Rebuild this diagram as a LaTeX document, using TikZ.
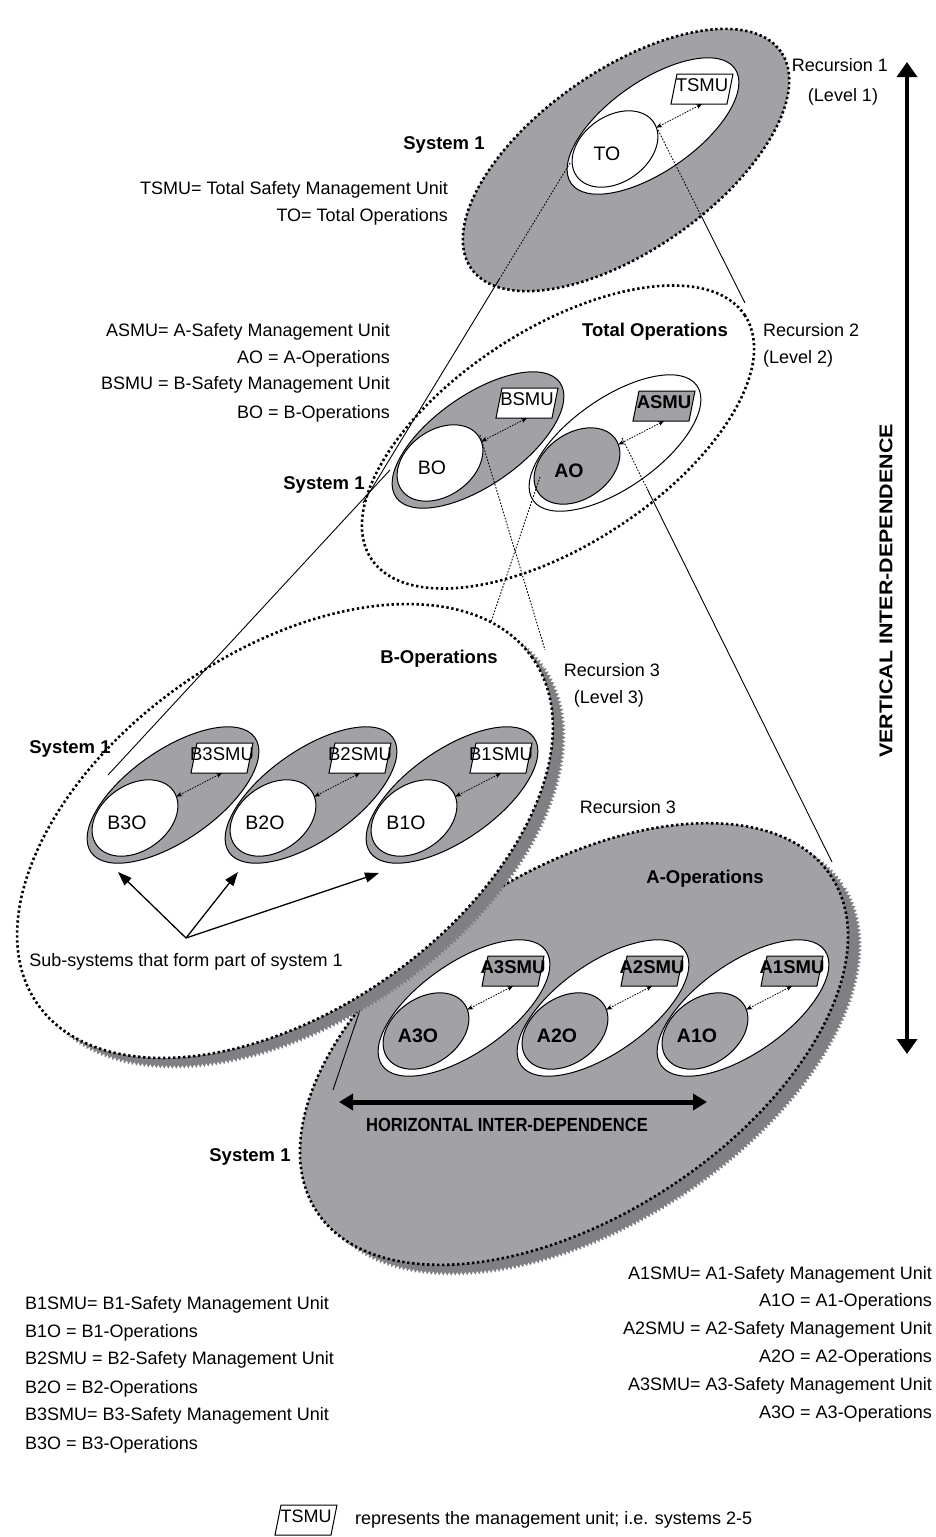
\documentclass[tikz,border=0pt]{standalone}
\usepackage{fontspec}
\setmainfont{Liberation Sans}
\usepackage{graphicx}
\usetikzlibrary{shapes.geometric,arrows.meta,calc,decorations.pathmorphing}

\definecolor{unitgray}{RGB}{161,161,166}
\definecolor{shadowc}{RGB}{128,128,132}
\newcommand{\fsz}[1]{\fontsize{#1}{#1}\selectfont}

\tikzset{
  ell/.style={ellipse, inner sep=0pt, outer sep=0pt},
  rim/.style={draw=black, line width=1pt},
  dotrim/.style={draw=black, line width=2.6pt, dash pattern=on 2.4pt off 2.6pt},
  smu/.style={rectangle, minimum width=50pt, minimum height=30pt, inner sep=0pt,
    outer sep=0pt, text height=14pt, text depth=10pt, font=\fsz{18.5}},
  slant/.style={draw=black, line width=1pt},
  link/.style={<->, >={Stealth[length=6pt,width=5pt]}, line width=0.8pt,
    dash pattern=on 1.6pt off 1.2pt},
  cone/.style={line width=0.9pt},
  conedot/.style={line width=0.9pt, dash pattern=on 1.6pt off 1.6pt},
  txt/.style={inner sep=0pt, font=\fsz{18}},
  btxt/.style={inner sep=0pt, font=\fsz{18.5}\bfseries},
  ptr/.style={line width=1.3pt, -{Triangle[length=14pt,width=10pt]}},
  varrow/.style={line width=4pt, {Triangle[length=15pt,width=20pt]}-{Triangle[length=15pt,width=20pt]}},
  harrow/.style={line width=5pt, {Triangle[length=14pt,width=16pt]}-{Triangle[length=14pt,width=16pt]}},
  jag/.style={fill=shadowc, decorate, decoration={zigzag, amplitude=1.8pt, segment length=4pt}},
}

% slanted management-unit box round a centre: #1 centre, #2 fill
\newcommand{\mubox}[2]{%
  \draw[slant, fill=#2] ($(#1)+(-31,15)$) -- ($(#1)+(25,15)$) -- ($(#1)+(31,-15)$)
    -- ($(#1)+(-25,-15)$) -- cycle;
}

% one operations unit: outer ellipse, operations ellipse, management unit, link
% #1 name, #2 x, #3 y, #4 outer fill, #5 inner fill, #6 unit text, #7 operations text, #8 weight
\newcommand{\opunit}[8]{%
  \node[ell, rim, fill=#4, minimum width=200pt, minimum height=90pt, rotate=35] (#1) at (#2,#3) {};
  \node[ell, rim, fill=#5, minimum width=94pt, minimum height=66pt, rotate=35] (#1o) at ($(#2,#3)+(-38,23)$) {};
  \coordinate (#1c) at ($(#2,#3)+(49,-37)$);
  \mubox{#1c}{#5}
  \node[smu, font=\fsz{18.5}#8] (#1s) at (#1c) {#6};
  \node[txt, font=\fsz{19.5}#8] (#1l) at ($(#2,#3)+(-46,28)$) {#7};
  \draw[link] (#1o) -- (#1s.south);
}

\begin{document}
\begin{tikzpicture}[x=1pt,y=-1pt]
\useasboundingbox (0,0) rectangle (935,1537);
\fill[white] (0,0) rectangle (935,1537);

% ---------- Recursion 1 ----------
\node[ell, dotrim, fill=unitgray, minimum width=378pt, minimum height=180pt, rotate=35] (R1) at (626,160) {};
\opunit{T}{653}{126}{white}{white}{TSMU}{TO}{\mdseries}

% ---------- Recursion 2 ----------
\node[ell, dotrim, fill=white, minimum width=446pt, minimum height=216pt, rotate=33] (R2) at (558,437) {};
\opunit{B}{478}{440}{unitgray}{white}{BSMU}{BO}{\mdseries}
\opunit{A}{615}{443}{white}{unitgray}{ASMU}{AO}{\bfseries}

% zoom lines from TO to Total Operations
\coordinate (c1s) at (570,163); \coordinate (c1e) at (363,503);
\coordinate (c2s) at (658,130); \coordinate (c2e) at (745,303);
\draw[conedot] (c1s) -- ($(c1s)!0.34!(c1e)$) coordinate (c1m);
\draw[cone] (c1m) -- (c1e);
\draw[conedot] (c2s) -- ($(c2s)!0.5!(c2e)$) coordinate (c2m);
\draw[cone] (c2m) -- (c2e);

% ---------- Recursion 3: A-Operations ----------
\path[jag, rotate around={33:(586,1053)}] (586,1053) ellipse [x radius=307pt, y radius=172pt];
\node[ell, dotrim, fill=unitgray, minimum width=614pt, minimum height=344pt, rotate=33] (AOP) at (574,1044) {};
\opunit{A3}{464}{1008}{white}{unitgray}{A3SMU}{A3O}{\bfseries}
\opunit{A2}{603}{1008}{white}{unitgray}{A2SMU}{A2O}{\bfseries}
\opunit{A1}{743}{1008}{white}{unitgray}{A1SMU}{A1O}{\bfseries}

% zoom lines from AO to A-Operations
\coordinate (c5s) at (540,477); \coordinate (c5e) at (333,1090);
\draw[conedot] (c5s) -- ($(c5s)!0.4!(c5e)$) coordinate (c5m);
\draw[cone] (c5m) -- (c5e);
\coordinate (c6s) at (622,438); \coordinate (c6e) at (832,862);
\draw[conedot] (c6s) -- ($(c6s)!0.12!(c6e)$) coordinate (c6m);
\draw[cone] (c6m) -- (c6e);

% ---------- Recursion 3: B-Operations ----------
\path[jag, rotate around={35:(296,840)}] (296,840) ellipse [x radius=302pt, y radius=179pt];
\node[ell, dotrim, fill=white, minimum width=604pt, minimum height=358pt, rotate=35] (BOP) at (285,831) {};
\opunit{B3}{173}{795}{unitgray}{white}{B3SMU}{B3O}{\mdseries}
\opunit{B2}{311}{795}{unitgray}{white}{B2SMU}{B2O}{\mdseries}
\opunit{B1}{452}{795}{unitgray}{white}{B1SMU}{B1O}{\mdseries}

% zoom lines from BO to B-Operations
\coordinate (c3s) at (390,470); \coordinate (c3e) at (108,775);
\draw[cone] (c3s) -- (c3e);
\coordinate (c4s) at (480,435); \coordinate (c4e) at (545,650);
\draw[conedot] (c4s) -- (c4e);

% sub-system pointers
\node[txt, anchor=base] (sub) at (186,966.5) {Sub-systems that form part of system 1};
\coordinate (fork) at (186,938);
\coordinate (t3) at (118,872);
\coordinate (t2) at (238,872);
\coordinate (t1) at (379,873);
\draw[ptr] (fork) -- (t3);
\draw[ptr] (fork) -- (t2);
\draw[ptr] (fork) -- (t1);

% ---------- labels ----------
\node[btxt, anchor=base] (sys1) at (444,149.5) {System 1};
\node[btxt, anchor=base] (sys2) at (324,489.5) {System 1};
\node[btxt, anchor=base] (sys3) at (70,753.5) {System 1};
\node[btxt, anchor=base] (sys4) at (250,1161.5) {System 1};

\node[btxt, anchor=base] (tot) at (655,336.5) {Total Operations};
\node[btxt, anchor=base] (bops) at (439,663.5) {B-Operations};
\node[btxt, anchor=base] (aops) at (705,883.5) {A-Operations};

\node[txt, anchor=base] (rec1) at (840,71.5) {Recursion 1};
\node[txt, anchor=base] (lev1) at (843,101.5) {(Level 1)};
\node[txt, anchor=base west] (rec2) at (763,336.5) {Recursion 2};
\node[txt, anchor=base west] (lev2) at (763,363.5) {(Level 2)};
\node[txt, anchor=base] (rec3) at (612,676.5) {Recursion 3};
\node[txt, anchor=base] (lev3) at (609,703.5) {(Level 3)};
\node[txt, anchor=base] (rec3b) at (628,813.5) {Recursion 3};

\node[txt, anchor=base east] (k1) at (448,194.5) {TSMU= Total Safety Management Unit};
\node[txt, anchor=base east] (k2) at (448,221.5) {TO= Total Operations};

\node[txt, anchor=base east] (k3) at (390,336.5) {ASMU= A-Safety Management Unit};
\node[txt, anchor=base east] (k4) at (390,363.5) {AO = A-Operations};
\node[txt, anchor=base east] (k5) at (390,389.5) {BSMU = B-Safety Management Unit};
\node[txt, anchor=base east] (k6) at (390,418.5) {BO = B-Operations};

\node[txt, anchor=base west] (kb1) at (25,1309.5) {B1SMU= B1-Safety Management Unit};
\node[txt, anchor=base west] (kb2) at (25,1337.5) {B1O = B1-Operations};
\node[txt, anchor=base west] (kb3) at (25,1364.5) {B2SMU = B2-Safety Management Unit};
\node[txt, anchor=base west] (kb4) at (25,1393.5) {B2O = B2-Operations};
\node[txt, anchor=base west] (kb5) at (25,1420.5) {B3SMU= B3-Safety Management Unit};
\node[txt, anchor=base west] (kb6) at (25,1449.5) {B3O = B3-Operations};

\node[txt, anchor=base east] (ka1) at (932,1279.5) {A1SMU= A1-Safety Management Unit};
\node[txt, anchor=base east] (ka2) at (932,1306.5) {A1O = A1-Operations};
\node[txt, anchor=base east] (ka3) at (932,1334.5) {A2SMU = A2-Safety Management Unit};
\node[txt, anchor=base east] (ka4) at (932,1362.5) {A2O = A2-Operations};
\node[txt, anchor=base east] (ka5) at (932,1390.5) {A3SMU= A3-Safety Management Unit};
\node[txt, anchor=base east] (ka6) at (932,1418.5) {A3O = A3-Operations};

% ---------- inter-dependence arrows ----------
\coordinate (vtop) at (907,62);
\coordinate (vbot) at (907,1054);
\draw[varrow] (vbot) -- (vtop);
\node[btxt, rotate=90] (vlab) at (886,591) {\scalebox{1.16}[1]{VERTICAL INTER-DEPENDENCE}};

\coordinate (hl) at (339,1102);
\coordinate (hr) at (707,1102);
\draw[harrow] (hl) -- (hr);
\node[btxt, font=\fsz{19}\bfseries] (hlab) at (507,1125) {\scalebox{0.87}[1]{HORIZONTAL INTER-DEPENDENCE}};

% ---------- key ----------
\coordinate (keyc) at (306,1520);
\mubox{keyc}{white}
\node[smu, font=\fsz{18}] (key) at (keyc) {TSMU};
\node[txt, anchor=base west] (keytxt) at (355,1524.5) {represents the management unit; i.e. systems 2-5};
\end{tikzpicture}
\end{document}
